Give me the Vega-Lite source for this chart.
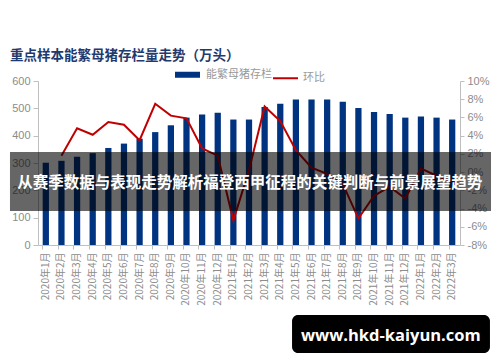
{
  "$schema": "https://vega.github.io/schema/vega-lite/v6.json",
  "width": 422,
  "height": 164,
  "autosize": {"type": "none"},
  "padding": {"left": 38, "top": 81, "right": 40, "bottom": 117},
  "background": "white",
  "title": {
    "text": "重点样本能繁母猪存栏量走势（万头）",
    "anchor": "start",
    "frame": "group",
    "dx": -28,
    "offset": 7,
    "font": "Noto Sans CJK SC",
    "fontSize": 13.5,
    "fontWeight": "bold",
    "color": "#1f3a6e"
  },
  "config": {
    "view": {"stroke": null},
    "axis": {
      "labelFont": "Liberation Sans",
      "labelColor": "#8c8c8c",
      "domainColor": "#bfbfbf",
      "tickColor": "#bfbfbf",
      "grid": false,
      "title": null
    }
  },
  "datasets": {
    "main": [
      {"month": "2020年1月", "stock": 301, "mom": null},
      {"month": "2020年2月", "stock": 308, "mom": 1.8},
      {"month": "2020年3月", "stock": 323, "mom": 4.8},
      {"month": "2020年4月", "stock": 336, "mom": 4.1},
      {"month": "2020年5月", "stock": 355, "mom": 5.5},
      {"month": "2020年6月", "stock": 371, "mom": 5.2},
      {"month": "2020年7月", "stock": 389, "mom": 3.5},
      {"month": "2020年8月", "stock": 413, "mom": 7.5},
      {"month": "2020年9月", "stock": 438, "mom": 6.2},
      {"month": "2020年10月", "stock": 466, "mom": 5.9},
      {"month": "2020年11月", "stock": 477, "mom": 2.6},
      {"month": "2020年12月", "stock": 484, "mom": 1.8},
      {"month": "2021年1月", "stock": 459, "mom": -5.3},
      {"month": "2021年2月", "stock": 459, "mom": 0.2},
      {"month": "2021年3月", "stock": 505, "mom": 7.2},
      {"month": "2021年4月", "stock": 517, "mom": 5.6},
      {"month": "2021年5月", "stock": 532, "mom": 2.4},
      {"month": "2021年6月", "stock": 532, "mom": 0.5},
      {"month": "2021年7月", "stock": 532, "mom": -0.2},
      {"month": "2021年8月", "stock": 524, "mom": -1.3},
      {"month": "2021年9月", "stock": 501, "mom": -5.1},
      {"month": "2021年10月", "stock": 487, "mom": -2.6},
      {"month": "2021年11月", "stock": 479, "mom": -1.6},
      {"month": "2021年12月", "stock": 466, "mom": -2.9},
      {"month": "2022年1月", "stock": 470, "mom": 0.4},
      {"month": "2022年2月", "stock": 466, "mom": -0.4},
      {"month": "2022年3月", "stock": 459, "mom": -1.1}
    ],
    "banner": [
      {"x0": -6.64, "x1": 107.35, "y0": 124, "y1": 340, "tx": 50.2, "ty": 226, "label": "从赛季数据与表现走势解析福登西甲征程的关键判断与前景展望趋势"}
    ],
    "stamp": [
      {"x0": 60.2, "x1": 107.1, "y0": -256, "y1": -395, "tx": 83.6, "ty": -333, "label": "www.hkd-kaiyun.com"}
    ]
  },
  "layer": [
    {
      "data": {"name": "main"},
      "mark": {"type": "bar"},
      "encoding": {
        "x": {
          "field": "month", "type": "ordinal", "sort": null,
          "scale": {"paddingInner": 0.6, "paddingOuter": 0.3},
          "axis": {"labelAngle": 270, "labelFontSize": 10, "labelFont": "Noto Sans CJK SC", "tickSize": 4, "bandPosition": 0, "labelPadding": 3}
        },
        "y": {
          "field": "stock", "type": "quantitative",
          "scale": {"domain": [0, 600]},
          "axis": {"values": [0, 100, 200, 300, 400, 500, 600], "tickSize": 5, "labelFontSize": 11, "labelPadding": 3}
        },
        "color": {
          "datum": "能繁母猪存栏", "type": "nominal",
          "scale": {"domain": ["能繁母猪存栏", "环比"], "range": ["#003380", "#c00000"]},
          "legend": {
            "orient": "none", "legendX": 144, "legendY": -12, "direction": "horizontal",
            "title": null, "symbolType": "stroke", "symbolSize": 625, "symbolStrokeWidth": 2,
            "labelFont": "Noto Sans CJK SC", "labelFontSize": 11, "labelColor": "#999999",
            "columnPadding": -3, "labelOffset": 15,
            "encode": {
              "symbols": {"update": {
                "strokeWidth": {"signal": "datum.value === '环比' ? 2 : 6"},
                "stroke": {"scale": "color", "field": "value"}
              }},
              "labels": {"update": {
                "dx": {"signal": "datum.value === '环比' ? -3 : -2"}
              }}
            }
          }
        }
      }
    },
    {
      "data": {"name": "main"},
      "mark": {"type": "line", "strokeWidth": 2},
      "encoding": {
        "x": {"field": "month", "type": "ordinal", "sort": null, "scale": {"type": "point", "padding": 0.5}, "axis": null},
        "y": {
          "field": "mom", "type": "quantitative",
          "scale": {"domain": [-8, 10]},
          "axis": {"orient": "right", "values": [-8, -6, -4, -2, 0, 2, 4, 6, 8, 10], "labelExpr": "datum.value + '%'", "tickSize": 4, "labelFontSize": 11, "labelPadding": 3}
        },
        "color": {"datum": "环比", "type": "nominal"}
      }
    },
    {
      "data": {"name": "banner"},
      "mark": {"type": "rect", "color": "black", "opacity": 0.6},
      "encoding": {
        "x": {"field": "x0", "type": "quantitative", "scale": {"domain": [0, 100], "nice": false}, "axis": null},
        "x2": {"field": "x1"},
        "y": {"field": "y0", "type": "quantitative", "scale": {"domain": [0, 600], "nice": false}, "axis": null},
        "y2": {"field": "y1"}
      }
    },
    {
      "data": {"name": "banner"},
      "mark": {"type": "text", "color": "white", "font": "Noto Sans CJK SC", "fontSize": 15.5, "fontWeight": "bold", "align": "center", "baseline": "middle"},
      "encoding": {
        "x": {"field": "tx", "type": "quantitative", "scale": {"domain": [0, 100], "nice": false}, "axis": null},
        "y": {"field": "ty", "type": "quantitative", "scale": {"domain": [0, 600], "nice": false}, "axis": null},
        "text": {"field": "label"}
      }
    },
    {
      "data": {"name": "stamp"},
      "mark": {"type": "rect", "color": "black", "cornerRadius": 6},
      "encoding": {
        "x": {"field": "x0", "type": "quantitative", "scale": {"domain": [0, 100], "nice": false}, "axis": null},
        "x2": {"field": "x1"},
        "y": {"field": "y0", "type": "quantitative", "scale": {"domain": [0, 600], "nice": false}, "axis": null},
        "y2": {"field": "y1"}
      }
    },
    {
      "data": {"name": "stamp"},
      "mark": {"type": "text", "color": "white", "font": "Open Sans", "fontSize": 16.5, "fontWeight": "bold", "align": "center", "baseline": "middle"},
      "encoding": {
        "x": {"field": "tx", "type": "quantitative", "scale": {"domain": [0, 100], "nice": false}, "axis": null},
        "y": {"field": "ty", "type": "quantitative", "scale": {"domain": [0, 600], "nice": false}, "axis": null},
        "text": {"field": "label"}
      }
    }
  ],
  "resolve": {
    "scale": {"x": "independent", "y": "independent"},
    "axis": {"x": "independent", "y": "independent"}
  }
}
